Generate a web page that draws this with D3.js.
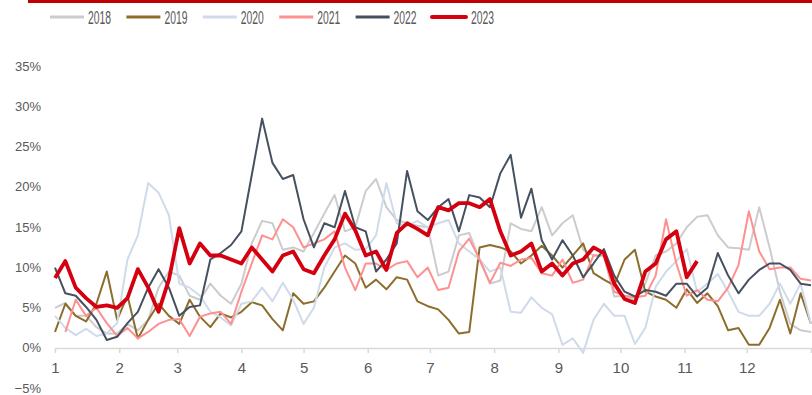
<!DOCTYPE html>
<html>
<head>
<meta charset="utf-8">
<script src="https://cdn.jsdelivr.net/npm/d3@7/dist/d3.min.js"></script>
<style>
  html, body { margin: 0; padding: 0; background: #fff; }
  svg { display: block; font-family: "Liberation Sans", Arial, sans-serif; }
</style>
</head>
<body>
<svg id="chart" width="812" height="395"></svg>
<script>
// ---- data ----
const years = ["2018", "2019", "2020", "2021", "2022", "2023"];
const colors = ["#cccccc", "#8c6d2c", "#cfdbeb", "#ff9090", "#465160", "#d40010"];
const monthLabels = ["1","2","3","4","5","6","7","8","9","10","11","12"];
const monthStartDays = [0, 31, 59, 90, 120, 151, 181, 212, 243, 273, 304, 334, 365];
const yTicks = [-5, 0, 5, 10, 15, 20, 25, 30, 35];
const sampleDays = d3.range(0, 366, 5); // day of year, every 5 days

const s2018 = [5.0, 5.6, 4.0, 4.0, 2.6, 1.8, 1.8, 3.0, 2.2, 3.5,
  7.5, 9.5, 9.0, 6.5, 6.0, 8.0, 6.5, 5.5, 8.0, 13.0,
  15.8, 15.5, 12.2, 12.5, 12.0, 14.3, 16.7, 19.0, 14.5, 15.0,
  19.5, 21.0, 17.5, 15.9, 15.5, 15.2, 15.0, 9.0, 9.5, 14.0,
  14.3, 11.0, 8.0, 8.4, 15.5, 14.8, 14.5, 17.5, 14.0, 15.5,
  16.5, 12.2, 11.5, 11.5, 6.4, 6.5, 6.0, 8.0, 11.5, 12.0,
  13.0, 15.0, 16.3, 16.5, 14.0, 12.5, 12.4, 12.2, 17.5, 12.5,
  7.0, 3.0, 2.2, 2.0];
const s2019 = [2.0, 5.5, 4.0, 3.3, 5.5, 9.5, 3.5, 6.5, 1.2, 3.5,
  5.5, 4.0, 3.0, 6.0, 3.9, 2.6, 4.3, 3.8, 4.5, 5.7,
  5.3, 3.6, 2.2, 6.8, 5.5, 5.8, 7.5, 9.5, 11.5, 10.5,
  7.5, 8.5, 7.3, 8.8, 8.5, 5.8, 5.2, 4.8, 3.5, 1.8,
  2.0, 12.5, 12.8, 12.5, 12.0, 10.5, 11.5, 12.7, 11.5, 10.0,
  11.5, 13.0, 9.3, 8.5, 7.8, 11.0, 12.2, 7.0, 6.4, 6.0,
  5.0, 7.3, 5.6, 6.8, 5.2, 2.2, 2.5, 0.4, 0.4, 2.5,
  6.0, 1.8, 6.8, 3.0];
const s2020 = [4.0, 2.5, 1.6, 2.4, 1.5, 1.8, 3.1, 11.0, 14.0, 20.5,
  19.3, 16.5, 8.0, 7.5, 6.5, 4.5, 3.8, 2.8, 5.5, 5.8,
  7.5, 5.8, 8.1, 6.0, 3.0, 5.0, 10.0, 12.5, 13.0, 12.2,
  12.3, 14.0, 20.5, 15.5, 15.2, 15.8, 15.0, 15.5, 15.9, 13.0,
  12.0, 11.0, 9.5, 10.0, 4.5, 4.4, 6.3, 5.0, 4.2, 0.4,
  1.2, -0.6, 3.5, 5.5, 4.0, 4.0, 0.5, 2.5, 7.6, 9.5,
  10.8, 12.3, 7.0, 8.0, 9.2, 7.0, 4.5, 4.0, 4.0, 5.5,
  8.0, 5.5, 8.0, 3.0];
const s2021 = [null, 2.0, 6.0, 4.0, 5.0, 3.1, 1.5, 2.5, 1.2, 2.0,
  3.0, 3.5, 3.6, 1.5, 3.9, 4.3, 4.5, 3.0, 7.0, 10.5,
  14.0, 13.5, 16.0, 15.0, 12.5, 13.0, 13.5, 14.5, 10.0, 7.2,
  10.5, 10.5, 9.7, 10.5, 10.8, 8.8, 10.0, 7.2, 7.5, 12.0,
  13.6, 11.0, 8.1, 10.6, 10.2, 11.0, 11.2, 9.3, 9.0, 11.0,
  8.1, 8.5, 11.5, 11.5, 7.0, 6.5, 6.3, 6.5, 9.0, 16.0,
  10.5, 6.5, 7.2, 6.0, 5.8, 7.5, 10.3, 17.0, 12.0, 9.8,
  10.0, 10.0, 8.6, 8.4];
const s2022 = [10.0, 6.8, 6.5, 5.1, 3.5, 1.0, 1.4, 3.1, 4.5, 7.5,
  9.8, 7.5, 4.0, 5.1, 5.3, 11.0, 11.8, 12.8, 14.5, 21.5,
  28.5, 23.0, 21.0, 21.5, 16.0, 12.5, 15.5, 15.0, 19.5, 15.0,
  14.5, 9.5, 11.0, 13.0, 22.0, 17.0, 15.9, 17.5, 18.5, 14.5,
  19.0, 18.7, 17.5, 21.7, 24.0, 16.2, 19.8, 13.4, 11.0, 13.4,
  11.5, 8.8, 10.5, 12.3, 9.0, 7.0, 6.4, 7.2, 7.0, 6.5,
  8.0, 8.0, 6.4, 7.5, 11.8, 9.0, 6.8, 8.5, 9.7, 10.5,
  10.5, 9.7, 8.0, 7.8];
const s2023 = [8.7, 10.8, 7.5, 6.2, 5.1, 5.3, 5.0, 6.2, 9.8, 7.5,
  4.5, 8.5, 14.9, 10.5, 13.0, 11.5, 11.5, 11.0, 10.5, 12.5,
  11.0, 9.5, 11.5, 12.0, 9.8, 9.3, 11.5, 13.5, 16.7, 14.6,
  11.5, 12.0, 9.7, 14.3, 15.5, 14.8, 14.0, 17.5, 17.1, 18.0,
  18.0, 17.5, 18.5, 14.5, 11.5, 12.0, 13.0, 9.5, 10.5, 9.0,
  10.5, 11.0, 12.5, 11.8, 8.0, 6.1, 5.6, 9.5, 10.5, 13.5,
  14.5, 8.8, 10.8];

const seriesValues = [s2018, s2019, s2020, s2021, s2022, s2023];

// ---- drawing ----
const svg = d3.select("#chart");
const x = d3.scaleLinear().domain([0, 365]).range([55, 811]);
const y = d3.scaleLinear().domain([-5, 35]).range([388.3, 66.3]);
const textColor = "#595959";

// top red bar
svg.append("rect").attr("x", 28).attr("y", 0).attr("width", 784).attr("height", 3).attr("fill", "#c00000");

// legend
const legendX0 = 50, legendStep = 76.4;
const lg = svg.append("g");
years.forEach((yr, i) => {
  const gx = legendX0 + i * legendStep;
  lg.append("line")
    .attr("x1", gx).attr("x2", gx + 34).attr("y1", 17).attr("y2", 17)
    .attr("stroke", colors[i]).attr("stroke-width", i === 5 ? 4 : 3)
    .attr("stroke-linecap", i === 5 ? "round" : "butt");
  lg.append("text")
    .attr("x", gx + 38 + (i === 5 ? 1 : 0)).attr("y", 24)
    .attr("font-size", 18).attr("fill", textColor)
    .attr("textLength", 23).attr("lengthAdjust", "spacingAndGlyphs")
    .text(yr);
});

// y axis labels
const yAxis = d3.axisLeft(y).tickValues(yTicks).tickSize(0).tickPadding(0)
  .tickFormat(v => (v < 0 ? "\u2212" + Math.abs(v) : v) + "%");
const yg = svg.append("g").attr("transform", "translate(41,0)").call(yAxis);
yg.select(".domain").remove();
yg.selectAll("text").attr("font-size", 13).attr("fill", textColor)
  .attr("font-family", "'Liberation Sans', Arial, sans-serif").attr("dy", "0.3em");

// x axis
const xAxis = d3.axisBottom(x).tickValues(monthStartDays).tickSize(5).tickSizeOuter(0)
  .tickFormat((d, i) => monthLabels[i] || "");
const xg = svg.append("g").attr("transform", `translate(0,${y(0)})`).call(xAxis);
xg.select(".domain").attr("stroke", "#d9d9d9").attr("stroke-width", 1.5);
xg.selectAll(".tick line").attr("stroke", "#d9d9d9").attr("stroke-width", 1.5);
xg.selectAll("text").attr("font-size", 15).attr("fill", textColor)
  .attr("font-family", "'Liberation Sans', Arial, sans-serif").attr("dy", "0").attr("y", 25);

// lines
const line = d3.line()
  .defined(d => d.v !== null)
  .x(d => x(d.day))
  .y(d => y(d.v));

seriesValues.forEach((vals, i) => {
  const pts = vals.map((v, k) => ({ day: sampleDays[k], v: v }));
  svg.append("path")
    .datum(pts)
    .attr("fill", "none")
    .attr("stroke", colors[i])
    .attr("stroke-width", i === 5 ? 3.8 : 2)
    .attr("stroke-linejoin", "round")
    .attr("d", line);
});
</script>
</body>
</html>
